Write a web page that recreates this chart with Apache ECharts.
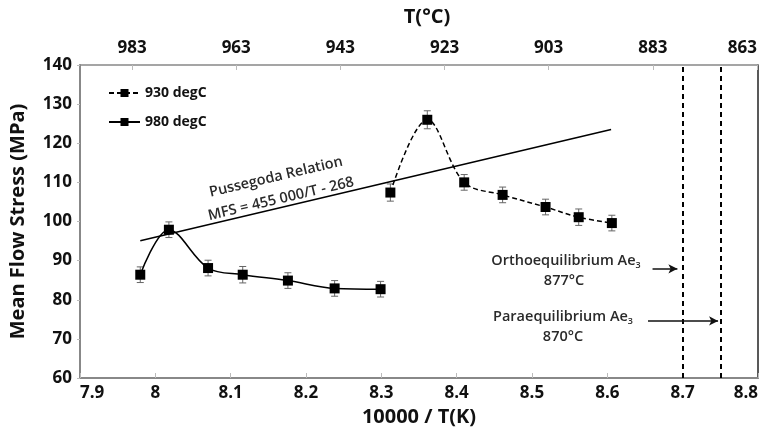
<!DOCTYPE html>
<html>
<head>
<meta charset="utf-8">
<script src="https://cdn.jsdelivr.net/npm/echarts@6/dist/echarts.min.js"></script>
<style>
  html, body { margin: 0; padding: 0; background: #fff; }
  #main { width: 766px; height: 436px; }
</style>
</head>
<body>
<div id="main"></div>
<script>
// 10000/T(K) and mean flow stress (MPa)
var x930 = [8.312, 8.361, 8.410, 8.461, 8.518, 8.562, 8.606];
var y930 = [107.4, 126.0, 110.0, 106.8, 103.7, 101.1, 99.6];
var x980 = [7.980, 8.018, 8.070, 8.116, 8.176, 8.238, 8.299];
var y980 = [86.4, 97.9, 88.1, 86.4, 84.9, 82.9, 82.7];
var err930 = [2.2, 2.3, 2.0, 2.0, 2.0, 2.1, 2.0];
var err980 = [2.0, 2.0, 2.0, 2.1, 2.0, 2.0, 2.0];
var pussegodaX = [7.980, 8.605];
var pussegodaY = [95.1, 123.5];
var ae3Lines = [8.695, 8.749];
var tempTicks = [863, 883, 903, 923, 943, 963, 983];

var font = 'Open Sans';

function pairs(xs, ys) {
    return xs.map(function (x, i) { return [x, ys[i]]; });
}
function errData(xs, ys, es) {
    return xs.map(function (x, i) { return [x, ys[i], es[i]]; });
}

function renderErr(params, api) {
    var x = api.value(0), y = api.value(1), e = api.value(2);
    var top = api.coord([x, y + e]);
    var bot = api.coord([x, y - e]);
    var w = 3.5;
    var st = { stroke: '#666', lineWidth: 1 };
    return {
        type: 'group',
        children: [
            { type: 'line', shape: { x1: top[0], y1: top[1], x2: bot[0], y2: bot[1] }, style: st },
            { type: 'line', shape: { x1: top[0] - w, y1: top[1], x2: top[0] + w, y2: top[1] }, style: st },
            { type: 'line', shape: { x1: bot[0] - w, y1: bot[1], x2: bot[0] + w, y2: bot[1] }, style: st }
        ]
    };
}

var myChart = echarts.init(document.getElementById('main'));

var labelFont = { fontFamily: font, fontWeight: 'bold', fontSize: 17, color: '#111' };
var noteStyle = { fontFamily: font, fontWeight: 600, fontSize: 14.5, fill: '#2a2a2a', textAlign: 'center', textVerticalAlign: 'middle' };
var subStyle = { fontFamily: font, fontWeight: 600, fontSize: 9, fill: '#2a2a2a', padding: [8, 0, 0, 0] };

var option = {
    animation: false,
    grid: { left: 80, right: 8, top: 65, bottom: 58, outerBoundsMode: 'none', containLabel: false },
    legend: {
        orient: 'vertical',
        left: 103,
        top: 81,
        itemWidth: 31,
        itemHeight: 10,
        itemGap: 15,
        data: ['930 degC', '980 degC'],
        textStyle: { fontFamily: font, fontWeight: 'bold', fontSize: 14, color: '#111' }
    },
    xAxis: [{
        type: 'value',
        min: 7.9,
        max: 8.8,
        interval: 0.1,
        name: '10000 / T(K)',
        nameLocation: 'middle',
        nameGap: 26,
        nameTextStyle: { fontFamily: font, fontWeight: 'bold', fontSize: 20, color: '#111' },
        axisLine: { lineStyle: { color: '#888', width: 2 } },
        axisTick: { inside: true, length: 5, lineStyle: { color: '#bbb' } },
        splitLine: { show: false },
        axisLabel: Object.assign({ margin: 7, alignMinLabel: 'left', alignMaxLabel: 'right',
            formatter: function (v) { return +v.toFixed(1); } }, labelFont)
    }, {
        type: 'value',
        position: 'top',
        inverse: true,
        min: 862.8,
        max: 993,
        name: 'T(°C)',
        nameLocation: 'middle',
        nameGap: 38,
        nameTextStyle: { fontFamily: font, fontWeight: 'bold', fontSize: 20, color: '#111', padding: [0, 0, 0, 16] },
        axisLine: { lineStyle: { color: '#888', width: 1.5 } },
        axisTick: { inside: true, length: 5, customValues: tempTicks, lineStyle: { color: '#bbb' } },
        splitLine: { show: false },
        axisLabel: Object.assign({ margin: 8, customValues: tempTicks, alignMinLabel: 'right' }, labelFont)
    }],
    yAxis: [{
        type: 'value',
        min: 60,
        max: 140,
        interval: 10,
        name: 'Mean Flow Stress (MPa)',
        nameLocation: 'middle',
        nameGap: 52,
        nameTextStyle: { fontFamily: font, fontWeight: 'bold', fontSize: 20, color: '#111' },
        axisLine: { show: true, lineStyle: { color: '#888', width: 2 } },
        axisTick: { show: true, length: 3, lineStyle: { color: '#bbb' } },
        splitLine: { show: false },
        axisLabel: Object.assign({ margin: 8 }, labelFont)
    }, {
        type: 'value',
        position: 'right',
        min: 60,
        max: 140,
        axisLine: { show: true, lineStyle: { color: '#222', width: 1.5 } },
        axisTick: { show: false },
        axisLabel: { show: false },
        splitLine: { show: false }
    }],
    series: [{
        name: 'err930',
        type: 'custom',
        renderItem: renderErr,
        data: errData(x930, y930, err930),
        z: 1
    }, {
        name: 'err980',
        type: 'custom',
        renderItem: renderErr,
        data: errData(x980, y980, err980),
        z: 1
    }, {
        name: '930 degC',
        type: 'line',
        data: pairs(x930, y930),
        smooth: 0.35,
        symbol: 'rect',
        symbolSize: 10,
        itemStyle: { color: '#000' },
        lineStyle: { color: '#000', width: 1.5, type: [5, 3] },
        z: 3
    }, {
        name: '980 degC',
        type: 'line',
        data: pairs(x980, y980),
        smooth: 0.35,
        symbol: 'rect',
        symbolSize: 10,
        itemStyle: { color: '#000' },
        lineStyle: { color: '#000', width: 1.5 },
        z: 3
    }, {
        name: 'Pussegoda',
        type: 'line',
        data: pairs(pussegodaX, pussegodaY),
        symbol: 'none',
        lineStyle: { color: '#000', width: 1.5 },
        z: 2,
        markLine: {
            silent: true,
            symbol: ['none', 'none'],
            label: { show: false },
            lineStyle: { color: '#000', width: 2, type: [5, 4] },
            data: ae3Lines.map(function (v) { return { xAxis: v }; })
        }
    }, {
        name: 'arrows',
        type: 'line',
        data: [],
        markLine: {
            silent: true,
            symbol: ['none', 'arrow'],
            symbolSize: [7, 9],
            label: { show: false },
            lineStyle: { color: '#111', width: 1.5, type: 'solid' },
            data: [
                [{ coord: [8.660, 87.9] }, { coord: [8.693, 87.9] }],
                [{ coord: [8.654, 74.6] }, { coord: [8.747, 74.6] }]
            ]
        }
    }],
    graphic: [
        { type: 'text', x: 276, y: 177, rotation: 13.3 * Math.PI / 180,
          style: Object.assign({ text: 'Pussegoda Relation' }, noteStyle) },
        { type: 'text', x: 281, y: 199, rotation: 13.3 * Math.PI / 180,
          style: Object.assign({ text: 'MFS = 455 000/T - 268' }, noteStyle) },
        { type: 'text', x: 566, y: 261,
          style: Object.assign({ text: 'Orthoequilibrium Ae{s|3}', rich: { s: subStyle } }, noteStyle) },
        { type: 'text', x: 564, y: 281,
          style: Object.assign({ text: '877°C' }, noteStyle) },
        { type: 'text', x: 563, y: 317,
          style: Object.assign({ text: 'Paraequilibrium Ae{s|3}', rich: { s: subStyle } }, noteStyle) },
        { type: 'text', x: 563, y: 337,
          style: Object.assign({ text: '870°C' }, noteStyle) }
    ]
};

myChart.setOption(option);
</script>
</body>
</html>
